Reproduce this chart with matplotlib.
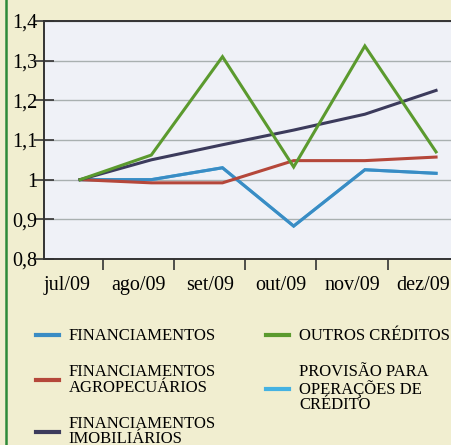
import matplotlib.pyplot as plt
from matplotlib.lines import Line2D

# data
meses = ['jul/09', 'ago/09', 'set/09', 'out/09', 'nov/09', 'dez/09']
financiamentos = [1.0, 1.0, 1.03, 0.883, 1.025, 1.016]
agropecuarios = [1.0, 0.992, 0.992, 1.048, 1.048, 1.057]
imobiliarios = [1.0, 1.05, 1.088, 1.125, 1.165, 1.225]
outros_creditos = [1.0, 1.062, 1.31, 1.032, 1.337, 1.07]
provisao = [1.0, 1.0, 1.03, 0.883, 1.025, 1.016]

y_ticks = [0.8, 0.9, 1.0, 1.1, 1.2, 1.3, 1.4]
y_labels = ['0,8', '0,9', '1', '1,1', '1,2', '1,3', '1,4']

series = [
    ('FINANCIAMENTOS', financiamentos, '#3a8cc4'),
    ('FINANCIAMENTOS\nAGROPECUÁRIOS', agropecuarios, '#b5473a'),
    ('FINANCIAMENTOS\nIMOBILIÁRIOS', imobiliarios, '#3c3b5c'),
    ('OUTROS CRÉDITOS', outros_creditos, '#5b9a2e'),
    ('PROVISÃO PARA\nOPERAÇÕES DE\nCRÉDITO', provisao, '#45b2e2'),
]

plt.rcParams['font.family'] = ['Liberation Serif', 'DejaVu Serif']

fig = plt.figure(figsize=(4.51, 4.45), dpi=100, facecolor='#f1eed0')
ax = fig.add_axes([44 / 451, 1 - 259 / 445, 1 - 44 / 451, (259 - 21) / 445])
ax.set_facecolor('#eff1f7')

x = list(range(len(meses)))
# provisao drawn first so the financiamentos line sits on top of it
order = [4, 0, 1, 2, 3]
handles = {}
for i in order:
    label, vals, color = series[i]
    h, = ax.plot(x, vals, color=color, lw=2.2, label=label, solid_joinstyle='miter')
    handles[i] = h

ax.set_xlim(-0.507, 5.21)
ax.set_ylim(0.8, 1.4)
ax.set_yticks(y_ticks)
ax.set_yticklabels(y_labels)
# month labels sit a little left of the points, tick marks a bit right of them
ax.set_xticks([i - 0.18 for i in x])
ax.set_xticklabels(meses)
ax.set_xticks([i + 0.32 for i in x[:-1]], minor=True)

ax.grid(axis='y', color='#a9b0b0', lw=1.0)
ax.set_axisbelow(True)

ax.tick_params(axis='y', which='major', direction='inout', length=14, width=1.2,
               color='#333333', labelsize=14.5, pad=-2)
ax.tick_params(axis='x', which='major', length=0, labelsize=14.5, pad=12)
ax.tick_params(axis='x', which='minor', direction='out', length=8, width=1.2, color='#333333')

for side in ['left', 'bottom', 'top']:
    ax.spines[side].set_color('#333333')
    ax.spines[side].set_linewidth(1.4)
ax.spines['right'].set_visible(False)

leg = fig.legend([handles[i] for i in range(5)], [s[0] for s in series],
                 ncol=2, loc='upper left', bbox_to_anchor=(0.064, 0.277),
                 frameon=False, fontsize=12, handlelength=1.4, handletextpad=0.6,
                 columnspacing=3.0, labelspacing=1.2, borderaxespad=0)
for t in leg.get_texts():
    t.set_linespacing(0.95)
for h in leg.legend_handles:
    h.set_linewidth(3)

# green margin rule at the left edge
fig.add_artist(Line2D([5.5 / 451, 5.5 / 451], [0, 1], color='#2e8b3a', lw=1.8))

fig.savefig('out.png', dpi=100, facecolor=fig.get_facecolor())
